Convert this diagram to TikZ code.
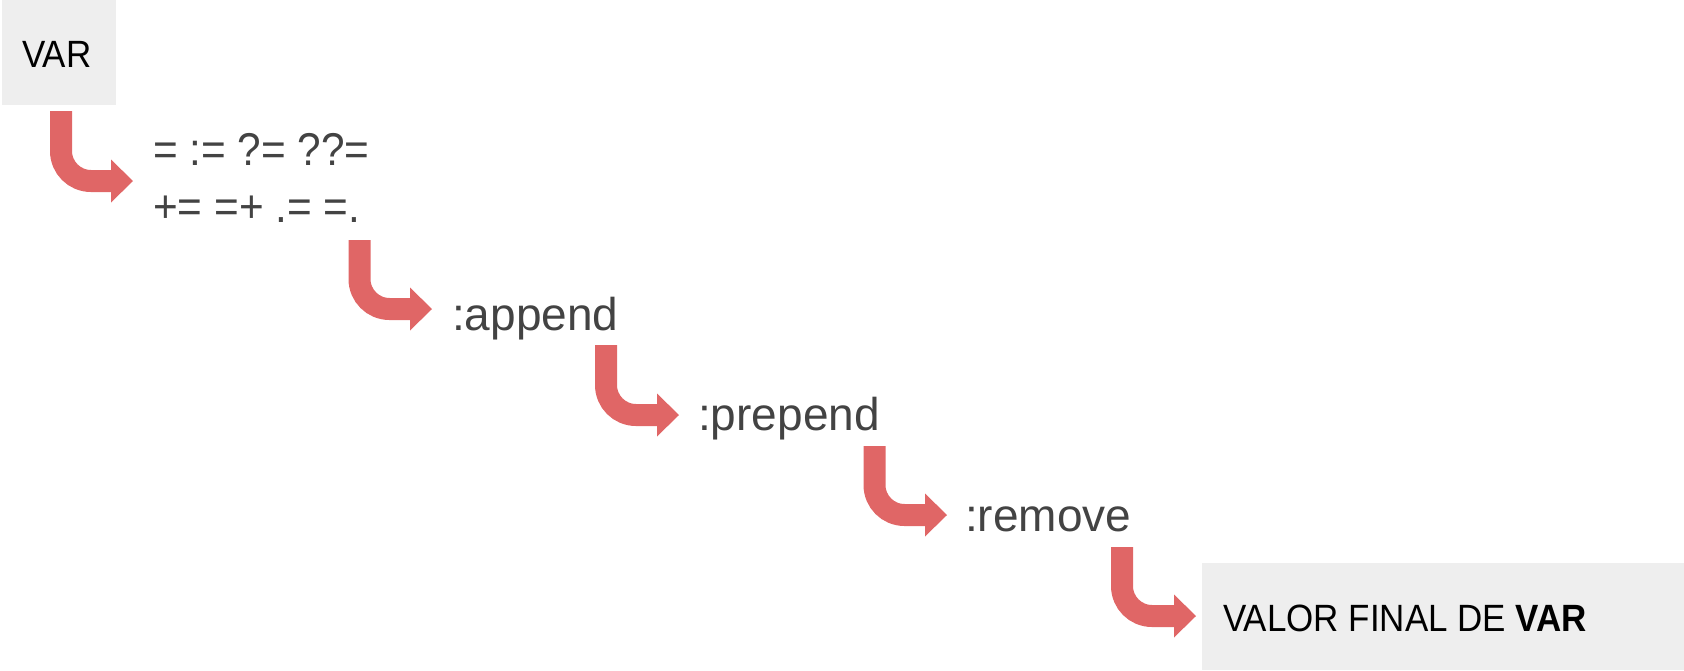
\documentclass[tikz,border=0pt]{standalone}
\usepackage{fontspec}
\setmainfont{Liberation Sans}
\newfontfamily\narrowsans{Liberation Sans}[FakeStretch=0.92]
\usetikzlibrary{arrows.meta}
\definecolor{arrowred}{HTML}{E06666}
\definecolor{boxgray}{HTML}{EEEEEE}
\definecolor{txtgray}{HTML}{434343}
\tikzset{
  flow/.style={draw=arrowred, line width=22pt, rounded corners=30pt,
    -{Triangle[length=22pt,width=43pt,line width=0pt]}},
  graybox/.style={fill=boxgray, draw=none},
  optext/.style={inner sep=0pt, text=txtgray, font=\fontsize{46}{57}\selectfont},
  opstext/.style={inner sep=0pt, text=txtgray, font=\narrowsans\fontsize{46}{57}\selectfont},
  boxtext/.style={inner sep=0pt, text=black, font=\narrowsans\fontsize{38}{46}\selectfont},
}
\begin{document}
\begin{tikzpicture}[x=1pt,y=-1pt]
\useasboundingbox (0,0) rectangle (1684,670);
% boxes
\fill[graybox] (2,0) rectangle (116,105);
\fill[graybox] (1202,563) rectangle (1684,670);
% texts
\node[boxtext, anchor=base west] (var) at (22,67) {VAR};
\node[opstext, anchor=west, align=left] (ops) at (153,178) {= := ?= ??=\\+= =+ .= =.};
\node[optext, anchor=base west] (append) at (452,330) {:append};
\node[optext, anchor=base west] (prepend) at (698,430) {:prepend};
\node[optext, anchor=base west] (remove) at (965,531) {:remove};
\node[boxtext, anchor=base west] (final) at (1223,631) {VALOR FINAL DE \textbf{VAR}};
% arrow end points
\coordinate (s1) at (61,111);    \coordinate (e1) at (133,181);
\coordinate (s2) at (359.5,240); \coordinate (e2) at (432,309);
\coordinate (s3) at (606,345);   \coordinate (e3) at (679,415);
\coordinate (s4) at (874.5,446); \coordinate (e4) at (947,515);
\coordinate (s5) at (1122,547);  \coordinate (e5) at (1196,616);
\draw[flow] (s1) |- (e1);
\draw[flow] (s2) |- (e2);
\draw[flow] (s3) |- (e3);
\draw[flow] (s4) |- (e4);
\draw[flow] (s5) |- (e5);
\end{tikzpicture}
\end{document}
